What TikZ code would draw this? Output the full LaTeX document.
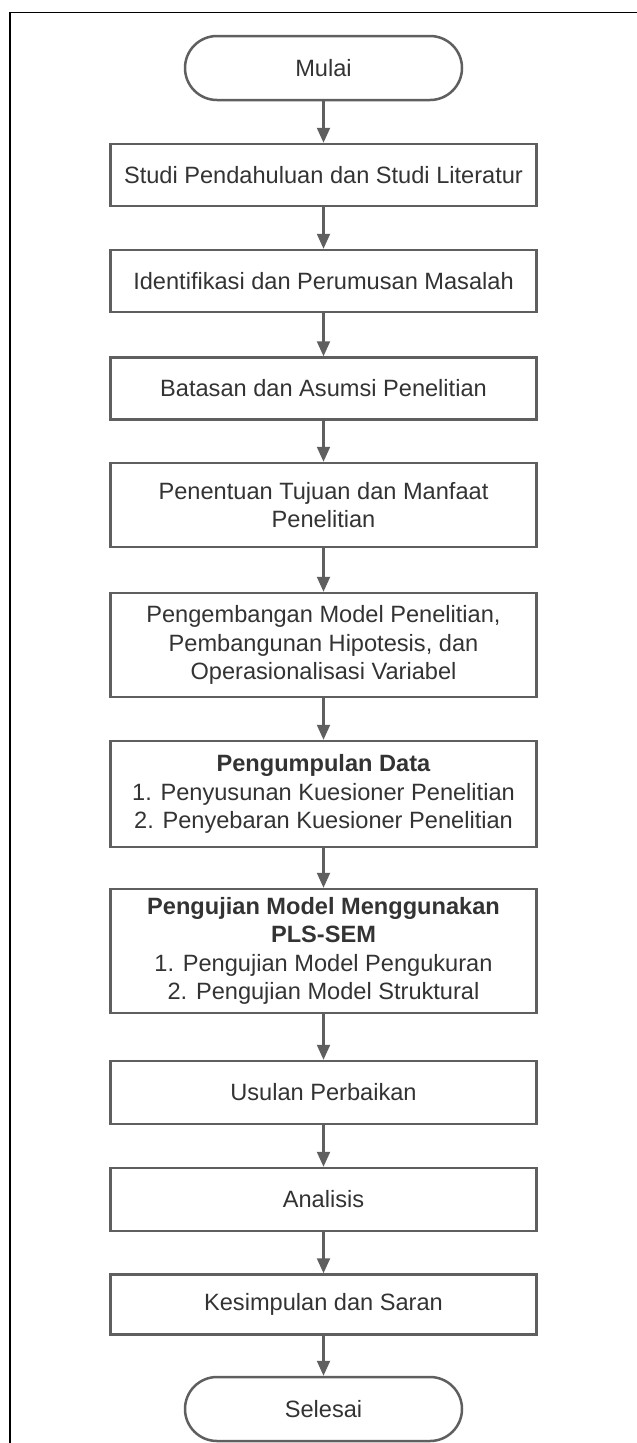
\documentclass[tikz,border=0pt]{standalone}
\usepackage{fontspec}
\setmainfont{Liberation Sans}
\usetikzlibrary{arrows.meta}
\definecolor{linegray}{HTML}{5F5F5F}
\definecolor{textgray}{HTML}{333333}

\begin{document}
\begin{tikzpicture}[x=1pt, y=-1pt,
    process/.style={draw=linegray, line width=2.5pt, minimum width=426pt, inner sep=0pt, align=center, text=textgray, font=\fontsize{23.6}{28.5}\selectfont},
    terminal/.style={process, rounded corners=32pt, minimum width=277pt, minimum height=64pt},
    flow/.style={draw=linegray, line width=2.2pt, -{Triangle[length=15pt,width=13pt]}}]
            \useasboundingbox (0,0) rectangle (637,1443);
            \draw[line width=1.8pt] (10,1443) -- (10,12.5) -- (637,12.5);
            \node[terminal] (mulai) at (323.5,68) {Mulai};
            \node[process, minimum height=62pt] (studi) at (323.5,175) {Studi Pendahuluan dan Studi Literatur};
            \node[process, minimum height=62pt] (identifikasi) at (323.5,281) {Identifikasi dan Perumusan Masalah};
            \node[process, minimum height=62pt] (batasan) at (323.5,388.5) {Batasan dan Asumsi Penelitian};
            \node[process, minimum height=84pt] (tujuan) at (323.5,505) {Penentuan Tujuan dan Manfaat\\Penelitian};
            \node[process, minimum height=104pt] (model) at (323.5,645) {Pengembangan Model Penelitian,\\Pembangunan Hipotesis, dan\\Operasionalisasi Variabel};
            \node[process, minimum height=106pt] (data) at (323.5,794) {\textbf{Pengumpulan Data}\\1. Penyusunan Kuesioner Penelitian\\2. Penyebaran Kuesioner Penelitian};
            \node[process, minimum height=124pt] (pengujian) at (323.5,951) {\textbf{Pengujian Model Menggunakan}\\\textbf{PLS-SEM}\\1. Pengujian Model Pengukuran\\2. Pengujian Model Struktural};
            \node[process, minimum height=63pt] (usulan) at (323.5,1092.5) {Usulan Perbaikan};
            \node[process, minimum height=63pt] (analisis) at (323.5,1199.5) {Analisis};
            \node[process, minimum height=60pt] (kesimpulan) at (323.5,1304.5) {Kesimpulan dan Saran};
            \node[terminal] (selesai) at (323.5,1409) {Selesai};
            \draw[flow] (mulai) -- (studi);
            \draw[flow] (studi) -- (identifikasi);
            \draw[flow] (identifikasi) -- (batasan);
            \draw[flow] (batasan) -- (tujuan);
            \draw[flow] (tujuan) -- (model);
            \draw[flow] (model) -- (data);
            \draw[flow] (data) -- (pengujian);
            \draw[flow] (pengujian) -- (usulan);
            \draw[flow] (usulan) -- (analisis);
            \draw[flow] (analisis) -- (kesimpulan);
            \draw[flow] (kesimpulan) -- (selesai);
        \end{tikzpicture}
\end{document}
